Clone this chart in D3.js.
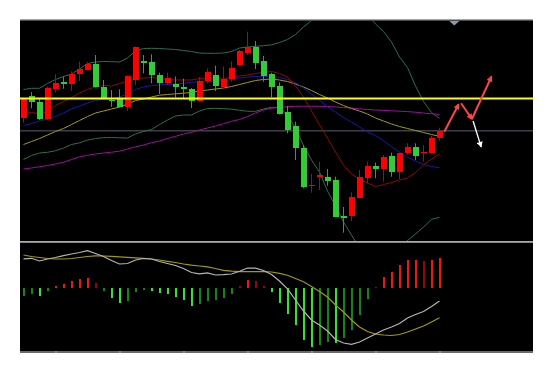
<!DOCTYPE html>
<html><head><meta charset="utf-8">
<script src="https://cdn.jsdelivr.net/npm/d3@7"></script>
<style>html,body{margin:0;padding:0;background:#fff;}svg{display:block;}</style>
</head><body>
<svg id="chart" width="553" height="373"></svg>
<script>
// ---- data ----
const bars = d3.range(53);
const open  = [123.3,145,139.3,122,152.3,159,156.7,167.3,171.5,177.5,153.7,141.5,142,134.5,161,179.7,178.7,166,157.7,157,154.3,152,140.5,160.3,165.8,154.5,162,176,188,194.3,180,167,155.3,129,115.3,93,55,64.7,63.7,60.7,25.3,25,43,63.3,75.3,72.3,85,69.3,87.7,94,87.7,88.3,103.5];
const high  = [143.3,149,142,154.5,166.7,164.5,169.5,179.3,179,186,161,151,151.7,165.5,194.5,186,186.7,168.3,168.3,164.5,162.3,153,164,172.7,175.3,174.3,179.5,191,209.3,200,185,168.3,158.7,135,119.3,96,67,79.3,72,64.3,34,48.7,71,79.3,78.3,86,88.3,88.3,97.7,97.7,96,105,113.3];
const low   = [118.3,132.7,121,121.5,148.5,152.2,150,160,170.5,153.5,142.5,134.3,133.5,130.2,156,167.7,157.7,147,156,143.5,142.7,133,139.5,157.7,150,153.5,159.3,175,186,172,159.3,143.7,126.5,107.7,81,52.7,48.3,51,55.3,23.7,8.3,20,42.5,57.7,62.7,59.3,64.3,61.7,86,81,79.3,88.3,100.3];
const close = [143.3,139.3,121.7,153.3,157.7,157.7,167,172,177.5,154.3,143.3,140.5,134.3,165,194,178,166,157.7,163.3,154,151.7,140.5,160.3,168.8,155.2,162,173.3,190,194.3,177.7,165,154.3,127.5,110.7,92.7,54.3,56.3,66,59.7,24.3,23,44,63.7,75,72.3,83.7,69.3,88.3,93.7,85,89.3,103.3,110];

const bbUpper = [151.5,152.7,152.7,157.5,161.5,164.5,167,172,177.5,179,179.5,179.3,179,183,190,192.5,192.7,192.5,192,191.5,190.5,189.5,188,187.7,187.7,188,189.5,193,194,194.7,195.3,196.2,198.5,201.5,206.5,214,220.5,227,232,235,236,235,232,226,217,209.5,199,184,173.5,155,139.5,128.5,122.7];
const bbLower = [81.5,85.5,88,88.7,90.3,93,96.5,98.2,101,102.5,103.3,103.5,103.2,103,107,109.5,111.5,116.5,121,125,126,126,130,132.5,132.7,132.3,131.8,130.8,129.7,129.7,132,133.7,133.5,126,113,95.5,81,69,50,35,19,6,-7,-15,-19,-19,-14,-6,0.5,7,14,21.7,23.7];
const ma10 = [128.2,128.3,127.5,129,135.5,139.5,143.5,148,151.7,154,155.5,155,157.5,160,162,163,163.5,162.5,161.5,161,161,161,162.5,163,162.5,162,164,165,166,167.5,168.7,169.5,167.5,164,155,144,130,116,103,89,76,67,62,58,54.5,56.5,58.5,61,63,68.5,76,82,87];
const ma20 = [115.5,117.5,120,122,124.5,128,132,135,138,140.5,141.7,142.2,144,147,151.5,154,155.5,156,156.5,157,157.7,158.7,159.3,159.5,160,160.5,161.5,163,164,164.5,164.7,164.5,163.5,161.5,158.5,153,147,141,134,129,123.5,119,114,109,105.5,100.5,94.5,89,84,80,76.5,74.5,73.3];
const ma30 = [96.5,99.5,102.5,106,109.5,112.5,116.5,120.5,124.5,128,130,132,134,137,140.5,142,144,145.8,146.5,147.2,147.8,148.5,150,151,152,153,154.5,156.5,158.5,160.5,161.5,162,161,159.5,157,154,150.5,146.5,143,139,135.5,132.5,130,127,123,120,117,114.5,112.5,110.5,108.5,106.5,104.7];
const ma60 = [72,73,74.3,75.5,77,78.7,81.5,84.2,85.7,87,88,88.8,89.8,92,94.2,96,98.3,100,102.5,104.7,107,108.7,111,113,115,117.3,119.7,121.5,124.5,128,131,132.7,133.7,134.3,134.7,134.8,134.8,134.7,134.5,134,133.5,133,132.2,131.5,131,130.6,130.2,129.8,129.4,128.8,128,127.2,126.5];

const levelYellow = 142.5;
const levelGray = 110.3;

const macdHist = [-7.3,-5.3,-7.7,-2.3,2.3,4.7,7,9.3,10.7,5,-2.7,-9.3,-15,-12.3,-4,-1.7,-2.7,-4.3,-5.7,-8.7,-12,-17.3,-16,-12.3,-11.7,-9.3,-5.3,2.7,8.3,7.3,2.7,-4,-14.3,-26,-36.7,-51.7,-59,-56.7,-53.3,-55,-50,-41.7,-26.7,-10.7,1,11.7,16,23.3,28.3,28.3,27.3,28.3,30.7];
const macdDif = [29.5,30,27.3,29.3,30.8,32.6,34.3,35.8,37.6,34.8,31.8,27.8,24.3,24.8,28.3,29.8,29.3,26.8,24.8,22.8,19.8,15.8,14.5,15.5,13.3,13.6,14.3,17.1,20.3,20.1,17.8,13.8,7.3,-0.5,-11.7,-22.7,-31.7,-36.7,-42.7,-51.2,-54.7,-56,-53.7,-49.7,-45.7,-41.7,-38.7,-35.2,-29.7,-26.2,-23.2,-18.2,-12.7];
const macdDea = [33.3,31.8,30.8,29.8,29.3,29.3,29.8,30.8,31.8,32.5,32.3,32,31.5,31,30.5,30,29.3,28.3,27,25.8,24.3,23.1,22.3,21.5,19.8,18,17.1,16.7,16.6,16.6,16.6,16.3,15,13.1,9.8,6.6,1.8,-3.2,-8.7,-16.7,-23.7,-31.7,-38.7,-43.2,-45.7,-46.7,-47.2,-46.2,-43.7,-40.7,-37.7,-33.7,-29.4];

const tickIdx = [4,12,20,28,36,44,52];
const markerIdx = 53.85;
const redArrows = [[[52.6,109.3],[54.4,136.7]],[[54.7,137.7],[56.05,122]],[[56.05,122],[58.5,164.3]]];
const whiteArrows = [[[56.2,120],[57.2,94.3]]];

// ---- drawing ----
const svg = d3.select('#chart');
const L = 20, R = 533, mainTop = 21, mainBot = 241, subTop = 243, subBot = 351;
const x = d3.scaleLinear().domain([0,52]).range([23.5,439.5]);
const y = d3.scaleLinear().domain([0,220]).range([mainBot, mainTop]);
const yM = d3.scaleLinear().domain([-62.7,45.3]).range([subBot, subTop]);

svg.append('rect').attr('x',L).attr('y',20).attr('width',R-L).attr('height',333).attr('fill','#000');
const defs = svg.append('defs');
defs.append('clipPath').attr('id','cm').append('rect').attr('x',L).attr('y',mainTop).attr('width',R-L).attr('height',mainBot-mainTop);
defs.append('clipPath').attr('id','cs').append('rect').attr('x',L).attr('y',subTop).attr('width',R-L).attr('height',subBot-subTop);
function marker(id,color){
  defs.append('marker').attr('id',id).attr('viewBox','0 0 10 10').attr('refX',8).attr('refY',5)
    .attr('markerWidth',7).attr('markerHeight',6).attr('markerUnits','userSpaceOnUse').attr('orient','auto')
    .append('path').attr('d','M0,0L10,5L0,10Z').attr('fill',color);
}
marker('ar','#ff4646'); marker('aw','#ffffff');

// borders
svg.append('rect').attr('x',L).attr('y',19.5).attr('width',R-L).attr('height',1.5).attr('fill','#4a4c50');
svg.append('rect').attr('x',L).attr('y',241).attr('width',R-L).attr('height',1.8).attr('fill','#a8a8a8');
svg.append('rect').attr('x',L).attr('y',351).attr('width',R-L).attr('height',2).attr('fill','#6a6a6a');

const gm = svg.append('g').attr('clip-path','url(#cm)');
gm.append('line').attr('x1',L).attr('x2',R).attr('y1',y(levelGray)).attr('y2',y(levelGray)).attr('stroke','#3c4046').attr('stroke-width',1.6);

const line = d3.line().x((d,i)=>x(i)).y(d=>y(d));
const series = [[bbUpper,'#2e6e4c'],[bbLower,'#2e6e4c'],[ma60,'#9b109b'],[ma30,'#a09a12'],[ma20,'#1818a8'],[ma10,'#8c0a0a']];
series.forEach(([d,c])=>gm.append('path').datum(d).attr('d',line).attr('fill','none').attr('stroke',c).attr('stroke-width',1));

// candles
const cg = gm.append('g');
bars.forEach(i=>{
  const up = close[i] >= open[i];
  cg.append('line').attr('x1',x(i)).attr('x2',x(i)).attr('y1',y(high[i])).attr('y2',y(low[i]))
    .attr('stroke', up ? '#c00000' : '#2aa82a').attr('stroke-width',1);
  const top = y(Math.max(open[i],close[i])), bot = y(Math.min(open[i],close[i]));
  cg.append('rect').attr('x',x(i)-2.5).attr('y',top).attr('width',6).attr('height',Math.max(1.5,bot-top))
    .attr('fill', up ? '#ff0000' : '#32cd32').attr('shape-rendering','crispEdges');
});

gm.append('line').attr('x1',L).attr('x2',R).attr('y1',y(levelYellow)).attr('y2',y(levelYellow)).attr('stroke','#ffff00').attr('stroke-width',2);

// arrows
redArrows.forEach(a=>svg.append('line').attr('x1',x(a[0][0])).attr('y1',y(a[0][1])).attr('x2',x(a[1][0])).attr('y2',y(a[1][1]))
  .attr('stroke','#ff4646').attr('stroke-width',2).attr('marker-end','url(#ar)'));
whiteArrows.forEach(a=>svg.append('line').attr('x1',x(a[0][0])).attr('y1',y(a[0][1])).attr('x2',x(a[1][0])).attr('y2',y(a[1][1]))
  .attr('stroke','#ffffff').attr('stroke-width',1.3).attr('marker-end','url(#aw)'));

// top marker triangle
const mx = x(markerIdx);
svg.append('path').attr('d',`M${mx-5},21L${mx+5},21L${mx},25.5Z`).attr('fill','#8d9bb0');

// MACD sub pane
const gs = svg.append('g').attr('clip-path','url(#cs)');
macdHist.forEach((v,i)=>{
  const prev = i>0 ? Math.abs(macdHist[i-1]) : Infinity;
  const strong = Math.abs(v) >= prev;
  const col = v>=0 ? (strong?'#ff1010':'#a00000') : (strong?'#22ee22':'#0a8c0a');
  gs.append('rect').attr('x',x(i)-0.5).attr('width',2).attr('y',Math.min(yM(0),yM(v))).attr('height',Math.abs(yM(v)-yM(0)))
    .attr('fill',col).attr('shape-rendering','crispEdges');
});
const lineM = d3.line().x((d,i)=>x(i)).y(d=>yM(d));
gs.append('path').datum(macdDea).attr('d',lineM).attr('fill','none').attr('stroke','#a09a12').attr('stroke-width',1.2);
gs.append('path').datum(macdDif).attr('d',lineM).attr('fill','none').attr('stroke','#b4b4b4').attr('stroke-width',1.2);

// bottom ticks
const ax = svg.append('g').attr('transform','translate(0,353)')
  .call(d3.axisTop(x).tickValues(tickIdx).tickSize(2).tickFormat(''));
ax.select('.domain').remove();
ax.selectAll('line').attr('stroke','#b8b8b8');
</script>
</body></html>
